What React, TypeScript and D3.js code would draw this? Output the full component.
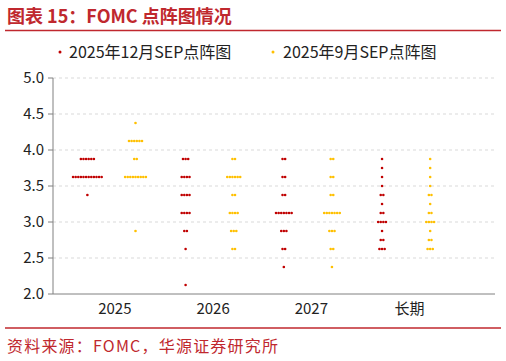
import React from "react";
import * as d3 from "d3";

const categories = ["2025", "2026", "2027", "长期"];
const yTicks = [2.0, 2.5, 3.0, 3.5, 4.0, 4.5, 5.0];
const seriesNames = ["2025年12月SEP点阵图", "2025年9月SEP点阵图"];

// [category index, rate, number of participants]
const dec2025Dots: [number, number, number][] = [
  [0, 3.875, 6], [0, 3.625, 12], [0, 3.375, 1],
  [1, 3.875, 3], [1, 3.625, 4], [1, 3.375, 4], [1, 3.125, 4], [1, 2.875, 2], [1, 2.625, 1], [1, 2.125, 1],
  [2, 3.875, 2], [2, 3.625, 2], [2, 3.375, 2], [2, 3.125, 7], [2, 2.875, 3], [2, 2.625, 2], [2, 2.375, 1],
  [3, 3.875, 1], [3, 3.75, 1], [3, 3.625, 1], [3, 3.5, 1], [3, 3.375, 2], [3, 3.25, 1], [3, 3.125, 2],
  [3, 3.0, 4], [3, 2.875, 1], [3, 2.75, 2], [3, 2.625, 3],
];

const sep2025Dots: [number, number, number][] = [
  [0, 4.375, 1], [0, 4.125, 6], [0, 3.875, 2], [0, 3.625, 9], [0, 2.875, 1],
  [1, 3.875, 2], [1, 3.625, 6], [1, 3.375, 2], [1, 3.125, 4], [1, 2.875, 3], [1, 2.625, 2],
  [2, 3.875, 2], [2, 3.625, 2], [2, 3.375, 2], [2, 3.125, 7], [2, 2.875, 3], [2, 2.625, 2], [2, 2.375, 1],
  [3, 3.875, 1], [3, 3.75, 1], [3, 3.625, 1], [3, 3.5, 1], [3, 3.375, 2], [3, 3.25, 1], [3, 3.125, 2],
  [3, 3.0, 4], [3, 2.875, 1], [3, 2.75, 2], [3, 2.625, 3],
];

const RED = "#C00000";
const YELLOW = "#FFC000";
const BRAND = "#C0282E";

export default function App() {
  const W = 506, H = 361;
  const left = 53, right = 495, top = 78, bottom = 294;
  const x = d3.scaleLinear().domain([0, 4.5]).range([left, right]);
  const y = d3.scaleLinear().domain([2, 5]).range([bottom, top]);
  const step = 2.6;
  const r = 1.3;

  const renderDots = (data: [number, number, number][], offset: number, color: string, key: string) =>
    data.flatMap(([ci, rate, n], i) =>
      d3.range(n).map((j) => (
        <circle
          key={`${key}-${i}-${j}`}
          cx={x(ci + offset) + (j - (n - 1) / 2) * step}
          cy={y(rate)}
          r={r}
          fill={color}
        />
      ))
    );

  const font = "'Noto Sans CJK SC', 'Noto Sans', sans-serif";

  return (
    <svg
      width={W}
      height={H}
      style={{ position: "absolute", left: 0, top: 0, background: "#fff" }}
      fontFamily={font}
    >
      <rect width={W} height={H} fill="#fff" />
      <text x={7} y={23} fill={BRAND} fontSize={18} fontWeight={700}>
        图表 15：FOMC 点阵图情况
      </text>
      <line x1={5} x2={501} y1={30.5} y2={30.5} stroke={BRAND} strokeWidth={1.5} />

      {/* legend */}
      <circle cx={60} cy={52} r={1.5} fill={RED} />
      <text x={69} y={58} fontSize={16} fill="#222">{seriesNames[0]}</text>
      <circle cx={273} cy={52} r={1.5} fill={YELLOW} />
      <text x={283} y={58} fontSize={16} fill="#222">{seriesNames[1]}</text>

      {/* grid */}
      {yTicks.filter((t) => t > 2).map((t) => (
        <line key={`g${t}`} x1={left} x2={right} y1={y(t)} y2={y(t)} stroke="#d9d9d9" strokeDasharray="3,3" strokeWidth={1} />
      ))}
      {/* y axis */}
      <line x1={left} x2={left} y1={top} y2={bottom} stroke="#808080" strokeWidth={1} />
      {yTicks.map((t) => (
        <g key={`t${t}`}>
          <line x1={left - 5} x2={left} y1={y(t)} y2={y(t)} stroke="#808080" />
          <text x={44} y={y(t)} dy="0.35em" textAnchor="end" fontSize={15} fill="#222">
            {t.toFixed(1)}
          </text>
        </g>
      ))}
      {/* x axis */}
      <line x1={left} x2={right} y1={bottom} y2={bottom} stroke="#808080" strokeWidth={1} />
      {categories.map((c, i) => (
        <text key={c} x={x(i + 0.63)} y={314} textAnchor="middle" fontSize={15} fill="#222">
          {c}
        </text>
      ))}

      {renderDots(dec2025Dots, 0.35, RED, "dec")}
      {renderDots(sep2025Dots, 0.84, YELLOW, "sep")}

      <line x1={5} x2={501} y1={328} y2={328} stroke={BRAND} strokeWidth={1.5} />
      <text x={7} y={352} fill={BRAND} fontSize={16} letterSpacing={1.2} fontFamily="'Noto Sans CJK SC', 'DejaVu Sans Mono', monospace">
        资料来源：FOMC，华源证券研究所
      </text>
    </svg>
  );
}
